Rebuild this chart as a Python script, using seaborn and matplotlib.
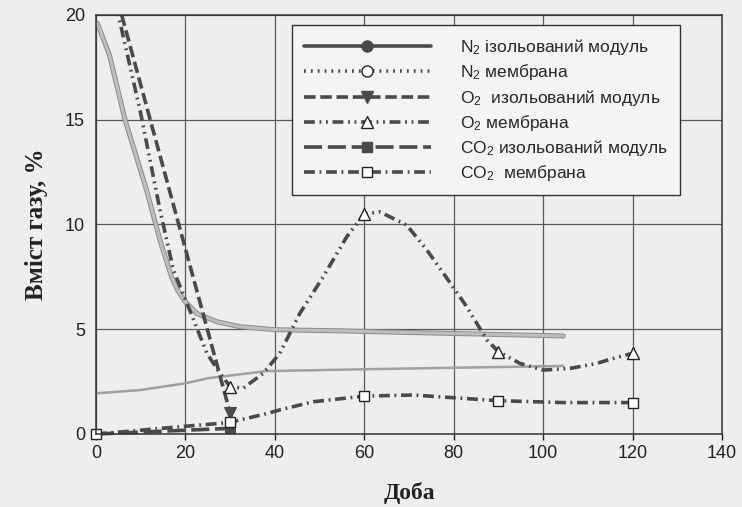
import matplotlib
matplotlib.use("Agg")
import matplotlib.pyplot as plt
from matplotlib.lines import Line2D
import matplotlib.patheffects as pe
import seaborn as sns

# O2, membrane (dash-dot-dot, open triangles at 30/60/90/120)
o2_mem_x = [0, 5, 10, 14.3, 17.3, 21.4, 24.8, 27.7, 30, 32.9, 37.4, 41.1, 45.6, 50.8,
            56.1, 60, 63.5, 69.5, 74, 77.7, 82.9, 87.4, 90, 94.8, 100, 106, 112, 115.7, 120]
o2_mem_y = [25.2, 20.0, 15.3, 10.7, 7.83, 5.68, 3.85, 2.9, 2.26, 2.18, 2.9, 3.85, 5.76, 7.5,
            9.42, 10.5, 10.6, 9.97, 8.78, 7.67, 6.08, 4.49, 3.93, 3.37, 3.05, 3.13, 3.37, 3.61, 3.85]

# O2, isolated module (dashes, filled down triangles)
o2_iso_x = [0, 30]
o2_iso_y = [24.5, 1.0]

# CO2, isolated module (long dashes, filled squares)
co2_iso_x = [0, 30]
co2_iso_y = [0.0, 0.27]

# CO2, membrane (dash-dot, open squares at 0/30/60/90/120)
co2_mem_x = [0, 10, 20, 30, 32.2, 38.5, 41.1, 48.6, 60, 71, 82.2, 90, 104.5, 120]
co2_mem_y = [0.0, 0.18, 0.37, 0.55, 0.67, 0.99, 1.15, 1.54, 1.81, 1.86, 1.7, 1.59, 1.5, 1.5]

# two grey curves without markers
grey_hi_x = [0.3, 3, 6.5, 9, 11.3, 14.3, 16.9, 18.3, 19.8, 22.5, 27, 32.2, 40, 55, 71, 88, 104.5]
grey_hi_y = [19.6, 18.1, 15.0, 13.25, 11.65, 9.26, 7.5, 6.85, 6.35, 5.76, 5.36, 5.12, 4.98, 4.92, 4.84, 4.76, 4.68]
grey_lo_x = [0, 10, 20, 25, 38, 55, 71, 88, 104.5]
grey_lo_y = [1.94, 2.1, 2.42, 2.66, 3.0, 3.07, 3.13, 3.19, 3.25]

labels = ["N$_2$ ізольований модуль", "N$_2$ мембрана", "O$_2$  изольований модуль",
          "O$_2$ мембрана", "CO$_2$ изольований модуль", "CO$_2$  мембрана"]

sns.set_theme(style="whitegrid")
plt.rcParams["font.family"] = ["Liberation Sans", "DejaVu Sans"]
plt.rcParams["mathtext.fontset"] = "custom"
plt.rcParams["mathtext.rm"] = "Liberation Sans"
plt.rcParams["mathtext.it"] = "Liberation Sans:italic"

BG = "#eeeeee"
INK = "#4a4a4a"

fig = plt.figure(figsize=(7.42, 5.07), dpi=100, facecolor=BG)
ax = fig.add_axes([96 / 742, 1 - 434 / 507, 626 / 742, 419 / 507])
ax.set_facecolor(BG)

# grey curves
sns.lineplot(x=grey_hi_x, y=grey_hi_y, ax=ax, color="#bdbdbd", lw=2.2, label="_nolegend_",
             path_effects=[pe.Stroke(linewidth=3.6, foreground="#8c8c8c"), pe.Normal()])
sns.lineplot(x=grey_lo_x, y=grey_lo_y, ax=ax, color="#a0a0a0", lw=1.8, label="_nolegend_")

styles = {
    "o2_iso": dict(color=INK, lw=2.6, linestyle=(0, (3.2, 1.3)), marker="v", ms=8,
                   markerfacecolor=INK, markeredgecolor=INK),
    "o2_mem": dict(color=INK, lw=2.6, linestyle=(0, (3.0, 1.3, 0.5, 1.3, 0.5, 1.3)), marker="^", ms=9,
                   markerfacecolor="white", markeredgecolor="#222222", markeredgewidth=1.0),
    "co2_iso": dict(color=INK, lw=2.6, linestyle=(0, (5.0, 1.6)), marker="s", ms=7,
                    markerfacecolor=INK, markeredgecolor=INK),
    "co2_mem": dict(color=INK, lw=2.6, linestyle=(0, (3.0, 1.3, 0.5, 1.3)), marker="s", ms=7.5,
                    markerfacecolor="white", markeredgecolor="#222222", markeredgewidth=1.0),
}

sns.lineplot(x=o2_iso_x, y=o2_iso_y, ax=ax, markevery=[0, 1], **styles["o2_iso"])
sns.lineplot(x=co2_iso_x, y=co2_iso_y, ax=ax, markevery=[0, 1], clip_on=False, **styles["co2_iso"])
sns.lineplot(x=o2_mem_x, y=o2_mem_y, ax=ax,
             markevery=[o2_mem_x.index(v) for v in (30, 60, 90, 120)], **styles["o2_mem"])
sns.lineplot(x=co2_mem_x, y=co2_mem_y, ax=ax, clip_on=False,
             markevery=[co2_mem_x.index(v) for v in (0, 30, 60, 90, 120)], **styles["co2_mem"])

ax.set_xlim(0, 140)
ax.set_ylim(0, 20)
ax.set_xticks(range(0, 141, 20))
ax.set_yticks(range(0, 21, 5))
ax.grid(True, color="#5a5a5a", lw=0.9)
for s in ax.spines.values():
    s.set_color("#333333")
    s.set_linewidth(1.1)
ax.tick_params(axis="both", labelsize=13, colors="#222222", length=4, width=1, direction="out",
               bottom=True, left=False, pad=4)

ax.set_xlabel("Доба", fontsize=17, fontweight="bold", family="Liberation Serif",
              labelpad=14, color="#222222")
ax.set_ylabel("Вміст газу, %", fontsize=18, fontweight="bold", family="Liberation Serif",
              labelpad=12, color="#222222")

# legend
handles = [
    Line2D([], [], color=INK, lw=2.6, marker="o", ms=8, markerfacecolor=INK, markeredgecolor=INK),
    Line2D([], [], color=INK, lw=2.6, linestyle=(0, (0.5, 1.4)), marker="o", ms=8,
           markerfacecolor="white", markeredgecolor="#222222", markeredgewidth=1.0),
    Line2D([], [], **styles["o2_iso"]),
    Line2D([], [], **styles["o2_mem"]),
    Line2D([], [], **styles["co2_iso"]),
    Line2D([], [], **styles["co2_mem"]),
]
leg = ax.legend(handles, labels, loc="upper left", bbox_to_anchor=(0.3126, 0.976),
                fontsize=12.5, handlelength=7.3, handletextpad=1.7, labelspacing=0.3,
                borderpad=0.7, borderaxespad=0, fancybox=False, frameon=True, framealpha=1)
leg.get_frame().set_facecolor("#f4f4f4")
leg.get_frame().set_edgecolor("#333333")
leg.get_frame().set_linewidth(1.0)

fig.savefig("out.png", dpi=100, facecolor=BG)
